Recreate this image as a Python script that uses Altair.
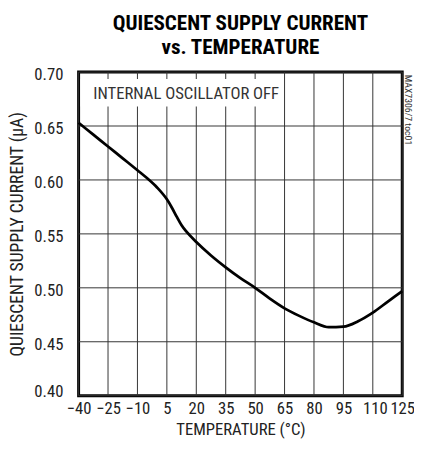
import altair as alt
import pandas as pd

# --- data ---
temperature = [-40, -32.5, -25, -17.5, -10, -5, 0, 5, 7.5, 10, 12.5, 15, 20, 27.5, 35, 42.5,
               50, 57.5, 65, 72.5, 80, 87.5, 95, 102.5, 110, 117.5, 125]
current = [0.653, 0.642, 0.631, 0.620, 0.609, 0.6015, 0.593, 0.582, 0.5745, 0.566, 0.558,
           0.552, 0.5425, 0.530, 0.519, 0.509, 0.500, 0.490, 0.481, 0.474, 0.468, 0.4635,
           0.464, 0.469, 0.477, 0.487, 0.497]

x_ticks = [-40, -25, -10, 5, 20, 35, 50, 65, 80, 95, 110, 125]
y_ticks = [0.40, 0.45, 0.50, 0.55, 0.60, 0.65, 0.70]

title_lines = ["QUIESCENT SUPPLY CURRENT", "vs. TEMPERATURE"]
x_title = "TEMPERATURE (°C)"
y_title = "QUIESCENT SUPPLY CURRENT (µA)"

note_text = ["INTERNAL OSCILLATOR OFF"]
note_x = [-32.5]
note_y = [0.6748]
box_x = [-39]
box_x2 = [62.25]
box_y = [0.6682]
box_y2 = [0.6936]

code_text = ["MAX7306/7 toc01"]
code_x = [128]
code_y = [0.6975]

FONT = "Liberation Sans Narrow, Roboto Condensed, DejaVu Sans Condensed, sans-serif"

curve = pd.DataFrame({"t": temperature, "i": current})
note_df = pd.DataFrame({"label": note_text, "t": note_x, "i": note_y})
box_df = pd.DataFrame({"t": box_x, "t2": box_x2, "i": box_y, "i2": box_y2})
code_df = pd.DataFrame({"label": code_text, "t": code_x, "i": code_y})
vgrid = pd.DataFrame({"t": x_ticks})
hgrid = pd.DataFrame({"i": y_ticks})

xscale = alt.Scale(domain=[-40, 125], nice=False, zero=False)
yscale = alt.Scale(domain=[0.40, 0.70], nice=False, zero=False)

x_axis = alt.Axis(values=x_ticks, title=x_title, domain=False, ticks=False,
                  labelPadding=5, titlePadding=6, grid=False, labelOverlap=False,
                  labelOffset={"condition": {"test": "datum.value == 110", "value": 2},
                               "value": 0},
                  labelFontSize=17, titleFontSize=17,
                  labelFont=FONT, titleFont=FONT, titleFontWeight="normal",
                  labelColor="#222", titleColor="#222", labelFlush=False)
y_axis = alt.Axis(values=y_ticks, format=".2f", title=y_title, domain=False,
                  ticks=False, labelPadding=16, titlePadding=8, grid=False,
                  labelOverlap=False,
                  labelOffset={"condition": {"test": "datum.value < 0.41", "value": -4},
                               "value": 2.5},
                  labelFontSize=17, titleFontSize=18,
                  labelFont=FONT, titleFont=FONT, titleFontWeight="normal",
                  labelColor="#222", titleColor="#222", labelFlush=False)

X = alt.X("t:Q", scale=xscale, axis=x_axis)
Y = alt.Y("i:Q", scale=yscale, axis=y_axis)

vrules = alt.Chart(vgrid).mark_rule(color="#333", strokeWidth=1).encode(x=X)
hrules = alt.Chart(hgrid).mark_rule(color="#333", strokeWidth=1).encode(y=Y)

box = alt.Chart(box_df).mark_rect(color="white").encode(
    x=X, x2="t2:Q", y=Y, y2="i2:Q",
)

line = alt.Chart(curve).mark_line(color="black", strokeWidth=2.8,
                                  interpolate="monotone").encode(x=X, y=Y)

note = alt.Chart(note_df).mark_text(align="left", baseline="alphabetic", font=FONT,
                                    fontSize=17, color="#333").encode(
    x=X, y=Y, text="label:N"
)

code = alt.Chart(code_df).mark_text(align="left", baseline="middle", angle=90, font=FONT,
                                    fontSize=10, color="#333").encode(
    x=X, y=Y, text="label:N"
)

chart = alt.layer(vrules, hrules, box, line, note, code).properties(
    width=330, height=330,
    title=alt.TitleParams(text=title_lines, font=FONT, fontSize=21.5, fontWeight="bold",
                          color="black", anchor="middle", lineHeight=25, offset=7),
    autosize=alt.AutoSizeParams(type="none"),
    padding={"left": 72, "top": 61, "right": 12, "bottom": 49},
).configure_view(stroke="black", strokeWidth=3).configure_axis(labelOverlap=False)

chart.save("out.html", embed_options={"renderer": "svg", "actions": False})
